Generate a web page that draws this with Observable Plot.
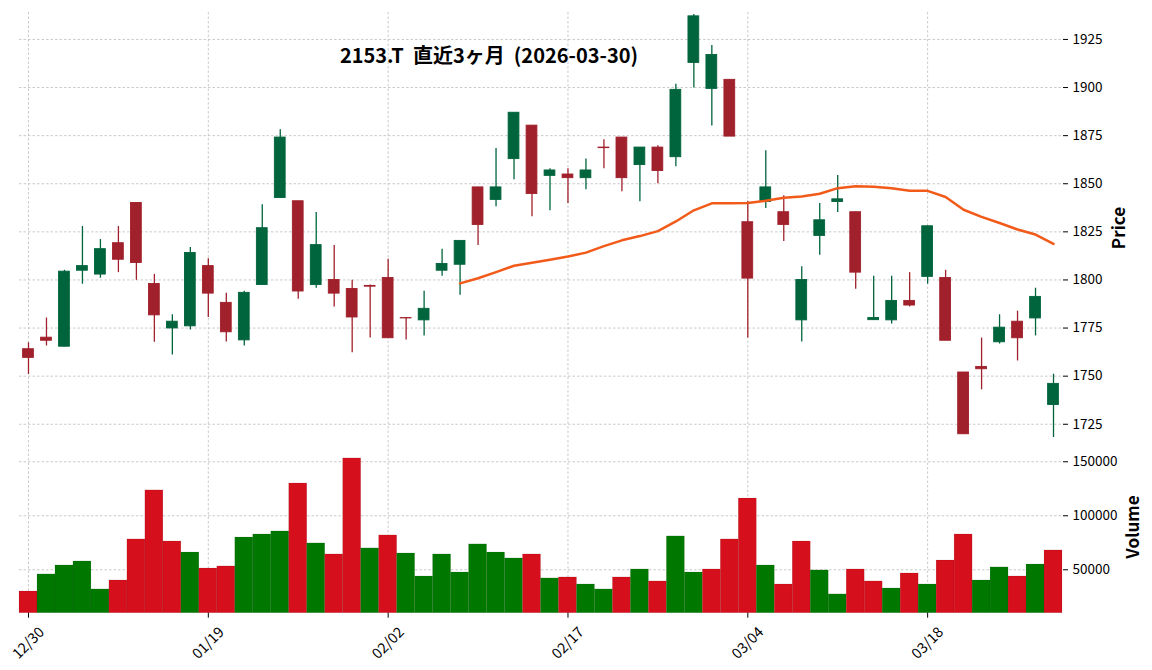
<!DOCTYPE html>
<html><head><meta charset="utf-8">
<script src="https://cdn.jsdelivr.net/npm/d3@7"></script>
<script src="https://cdn.jsdelivr.net/npm/@observablehq/plot@0.6"></script>
<style>
body{margin:0;background:#fff;}
#wrap{position:relative;width:1152px;height:670px;font-family:"Noto Sans CJK JP","Noto Sans",sans-serif;color:#000;overflow:hidden;}
#price,#vol{position:absolute;left:0;}
#price{top:0;}
#vol{top:440px;}
.title{position:absolute;top:40px;left:489px;transform:translateX(-50%);font-weight:bold;font-size:20px;white-space:pre;}
.ylab{position:absolute;font-weight:bold;font-size:17px;transform:translate(-50%,-50%) rotate(-90deg);white-space:nowrap;}
</style></head><body>
<div id="wrap">
  <div id="price"></div>
  <div id="vol"></div>
  <div class="title">2153.T  直近3ヶ月  (2026-03-30)</div>
  <div class="ylab" style="left:1117px;top:228px;">Price</div>
  <div class="ylab" style="left:1131px;top:527px;">Volume</div>
</div>
<script>
const dates = ["12/30","01/05","01/06","01/07","01/08","01/09","01/13","01/14","01/15","01/16",
"01/19","01/20","01/21","01/22","01/23","01/26","01/27","01/28","01/29","01/30",
"02/02","02/03","02/04","02/05","02/06","02/09","02/10","02/12","02/13","02/16",
"02/17","02/18","02/19","02/20","02/24","02/25","02/26","02/27","03/02","03/03",
"03/04","03/05","03/06","03/09","03/10","03/11","03/12","03/13","03/16","03/17",
"03/18","03/19","03/23","03/24","03/25","03/26","03/27","03/30"];
const open = [1764,1770,1765.3,1804.8,1802.8,1819.1,1840,1797.9,1774.8,1775.9,
1807.2,1788.1,1768.6,1797.4,1842.6,1840.9,1797.4,1800,1795.3,1796.9,
1801,1780.2,1779,1804.8,1807.9,1848.1,1841.6,1862.8,1880.2,1854.1,
1854.8,1852.9,1868.8,1874,1859.7,1868.8,1863.8,1912.8,1899.3,1904,
1830,1840.5,1835.2,1779,1822.9,1840.5,1835.2,1779.1,1779,1789.1,
1801.6,1801,1751.9,1754.8,1767.6,1778.3,1780,1735];
const high = [1767.3,1780.2,1805,1827.8,1821,1827.8,1840,1802.9,1781.9,1816.9,
1811,1793.1,1794.1,1839.1,1878.1,1840.9,1835,1817.9,1799.8,1797.4,
1810.7,1780.2,1794.1,1815.9,1820.3,1848.1,1868.3,1886.9,1880.2,1857.8,
1857.8,1862.9,1872.9,1874,1868.8,1869.7,1901.7,1938,1921.9,1904,
1840.9,1867.1,1843.8,1806.9,1839.7,1854.3,1835.2,1801.9,1801.9,1803.8,
1827.9,1805,1751.9,1769.8,1781.9,1783.8,1795.7,1751];
const low = [1750.9,1765.7,1765.3,1797.8,1800.9,1803.8,1799.8,1767.6,1761,1774,
1780.5,1767.8,1765.7,1797.4,1842.6,1790,1795.7,1786,1762.2,1769.8,
1769.7,1768.8,1770.9,1801.9,1792.1,1817.9,1838.1,1852.1,1832.9,1836,
1839.7,1846.9,1857.8,1845.9,1840.7,1850,1858.8,1899.7,1880,1874.5,
1769.8,1837.1,1820,1767.8,1812.8,1835,1795.2,1779.1,1777.1,1786,
1797.8,1768.4,1719.8,1742.9,1766.7,1757.9,1770.9,1718.1];
const close = [1759.5,1768.4,1804.3,1807.2,1816,1810.5,1808.8,1781.6,1778.3,1814,
1792.9,1772.8,1793.3,1826.9,1874,1794,1818.1,1792.9,1780.5,1796.5,
1769.7,1780,1785,1808.3,1820.3,1828.6,1848.1,1886.9,1844.7,1856.9,
1852.9,1856.9,1868.5,1852.9,1868.8,1856.6,1898.8,1937,1916.9,1874.5,
1800.7,1848.1,1828.6,1800,1831,1841.9,1803.8,1780.2,1789.1,1786.7,
1827.9,1768.4,1719.8,1753.6,1775.2,1769.7,1791.2,1746];
const volume = [29900,45700,54000,57700,31800,40100,78100,123500,76200,66000,
51200,53100,79900,82700,85500,129900,74400,64200,153100,69800,
81800,65100,43800,64200,47500,73500,66000,60500,64200,42000,
42900,36400,31800,42900,50300,39200,80900,47500,50300,78100,
116000,54000,36400,76200,49400,27200,50300,39200,32700,46600,
36400,58600,82700,40100,52200,43800,54900,67900];
const ma25 = [null,null,null,null,null,null,null,null,null,null,null,null,null,null,null,null,null,null,null,null,null,null,null,null,
1798.2,1800.9,1804.1,1807.4,1808.9,1810.5,1812.2,1814.2,1817.6,1820.6,1822.8,1825.4,1830.4,1836.2,1839.8,1839.8,
1840.0,1841.2,1842.7,1843.4,1844.8,1847.7,1848.7,1848.5,1847.7,1846.4,1846.3,1843.1,1836.5,1832.8,1829.6,1826.2,1823.6,1818.7];
const priceTicks = [1725,1750,1775,1800,1825,1850,1875,1900,1925];
const volumeTicks = [50000,100000,150000];
const dateTicks = [0,10,20,30,40,50];

const UP = "#00643c", DN = "#a0202b", VUP = "#007800", VDN = "#d50f1b", MA = "#f25a1a";
const GRID = {stroke:"#bcbcbc", strokeOpacity:1, strokeWidth:0.8, strokeDasharray:"2.5,2"};
const idx = d3.range(dates.length);
const rows = idx.map(i => ({
  i, o: open[i], h: high[i], l: low[i], c: close[i], v: volume[i], ma: ma25[i],
  up: close[i] >= open[i],
  vup: i === 0 ? close[0] >= open[0] : close[i] >= close[i - 1]
}));
const font = {fontFamily:'"Noto Sans CJK JP","Noto Sans",sans-serif', fontSize:"13.5px", overflow:"visible", background:"transparent"};
const plain = d => String(d);

const price = Plot.plot({
  width:1152, height:440, marginTop:12, marginBottom:2, marginLeft:19, marginRight:90,
  style: font,
  x: {type:"band", domain: idx, padding:0, axis:null},
  y: {domain:[1717.6,1939], axis:null},
  marks: [
    Plot.gridY(priceTicks, GRID),
    Plot.gridX(dateTicks, GRID),
    Plot.ruleX(rows, {x:"i", y1:"l", y2:"h", stroke: d => d.up ? UP : DN, strokeWidth:1.3}),
    Plot.barY(rows, {x:"i", y1: d => Math.min(d.o, d.c), y2: d => Math.max(d.o, d.c),
      fill: d => d.up ? UP : DN, stroke: d => d.up ? UP : DN, strokeWidth:0.9, insetLeft:3.6, insetRight:3.6}),
    Plot.line(rows.filter(d => d.ma != null), {x:"i", y:"ma", stroke: MA, strokeWidth:2.5}),
    Plot.axisY(priceTicks, {anchor:"right", tickSize:5, tickPadding:5, label:null, fontSize:13.5, tickFormat: plain})
  ]
});
document.getElementById("price").appendChild(price);

const vol = Plot.plot({
  width:1152, height:230, marginTop:0, marginBottom:57.3, marginLeft:19, marginRight:90,
  style: font,
  x: {type:"band", domain: idx, padding:0, axis:null},
  y: {domain:[9800,169700], clamp:true, axis:null},
  marks: [
    Plot.gridY(volumeTicks, GRID),
    Plot.gridX(dateTicks, GRID),
    Plot.barY(rows, {x:"i", y:"v", fill: d => d.vup ? VUP : VDN, stroke:"#000", strokeOpacity:0.12, strokeWidth:0.6}),
    Plot.axisY(volumeTicks, {anchor:"right", tickSize:5, tickPadding:5, label:null, fontSize:13.5, tickFormat: plain}),
    Plot.axisX(dateTicks, {tickFormat: () => "", tickSize:5, tickPadding:0, label:null}),
    Plot.text(dateTicks, {x: d => d, text: d => dates[d], frameAnchor:"bottom", dy:30, rotate:-45,
      textAnchor:"middle", lineAnchor:"middle", fontSize:14.5, fill:"#000"})
  ]
});
document.getElementById("vol").appendChild(vol);
</script>
</body></html>
